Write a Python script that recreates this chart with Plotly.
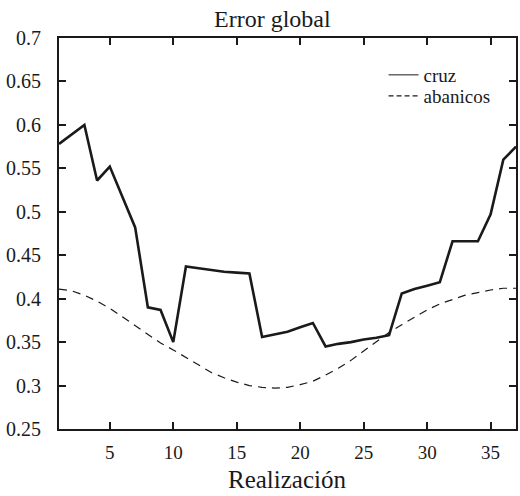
import plotly.graph_objects as go

realizacion = list(range(1, 38))
cruz = [0.578, 0.589, 0.600, 0.536, 0.552, 0.517, 0.482, 0.390, 0.387, 0.350,
        0.437, 0.435, 0.433, 0.431, 0.430, 0.429, 0.356, 0.359, 0.362, 0.367,
        0.372, 0.345, 0.348, 0.350, 0.353, 0.355, 0.358, 0.406, 0.411, 0.415,
        0.419, 0.466, 0.466, 0.466, 0.497, 0.560, 0.575]
abanicos = [0.411, 0.409, 0.404, 0.397, 0.389, 0.379, 0.369, 0.358, 0.349, 0.341,
            0.332, 0.323, 0.315, 0.309, 0.304, 0.300, 0.298, 0.297, 0.298, 0.301,
            0.305, 0.312, 0.320, 0.329, 0.340, 0.351, 0.361, 0.370, 0.379, 0.387,
            0.394, 0.399, 0.404, 0.407, 0.410, 0.412, 0.412]

x_ticks = [5, 10, 15, 20, 25, 30, 35]
y_ticks = [0.25, 0.3, 0.35, 0.4, 0.45, 0.5, 0.55, 0.6, 0.65, 0.7]
y_tick_text = ["0.25", "0.3", "0.35", "0.4", "0.45", "0.5", "0.55", "0.6", "0.65", "0.7"]

FONT = "Liberation Serif, Times New Roman, Times, serif"
INK = "#1a1a1a"

W, H = 520, 496
L, R, T, B = 59, 2, 38, 67
PW, PH = W - L - R, H - T - B


def px_x(px):
    return (px - L) / PW


def px_y(py):
    return (H - B - py) / PH


fig = go.Figure()
fig.add_trace(go.Scatter(x=realizacion, y=cruz, mode="lines", name="cruz",
                         showlegend=False, line=dict(color=INK, width=2.6)))
fig.add_trace(go.Scatter(x=realizacion, y=abanicos, mode="lines", name="abanicos",
                         showlegend=False,
                         line=dict(color=INK, width=1.2, dash="8px,6px")))
# legend entries (thin sample lines as in the reference)
fig.add_trace(go.Scatter(x=[None], y=[None], mode="lines", name="cruz",
                         legend="legend", line=dict(color=INK, width=1)))
fig.add_trace(go.Scatter(x=[None], y=[None], mode="lines", name="abanicos",
                         legend="legend2",
                         line=dict(color=INK, width=1.3, dash="5px,3px")))

leg_common = dict(xanchor="left", yanchor="middle",
                  font=dict(family=FONT, size=19, color=INK),
                  bgcolor="rgba(0,0,0,0)", itemwidth=30)

fig.update_layout(
    width=W, height=H,
    margin=dict(l=L, r=R, t=T, b=B),
    paper_bgcolor="white", plot_bgcolor="white",
    font=dict(family=FONT, color=INK, size=20),
    showlegend=True,
    legend=dict(x=px_x(385), y=px_y(75), **leg_common),
    legend2=dict(x=px_x(385), y=px_y(96), **leg_common),
    annotations=[
        dict(text="Error global", x=px_x(273), xref="paper",
             y=px_y(19), yref="paper", xanchor="center", yanchor="middle",
             showarrow=False, font=dict(family=FONT, size=24, color=INK)),
        dict(text="Realización", x=px_x(288), xref="paper",
             y=px_y(480), yref="paper", xanchor="center", yanchor="middle",
             showarrow=False, font=dict(family=FONT, size=25, color=INK)),
    ],
)
fig.update_xaxes(range=[1, 37], tickvals=x_ticks, ticks="inside", ticklen=7,
                 tickwidth=2, tickcolor=INK, showline=True, linewidth=2,
                 linecolor=INK, mirror="ticks", showgrid=False, zeroline=False,
                 ticklabelstandoff=5, tickfont=dict(family=FONT, size=19))
fig.update_yaxes(range=[0.25, 0.7], tickvals=y_ticks, ticktext=y_tick_text,
                 ticks="inside", ticklen=7, tickwidth=2, tickcolor=INK,
                 showline=True, linewidth=2, linecolor=INK, mirror="ticks",
                 showgrid=False, zeroline=False, ticklabelstandoff=12,
                 tickfont=dict(family=FONT, size=20))

fig.write_html("out.html")
